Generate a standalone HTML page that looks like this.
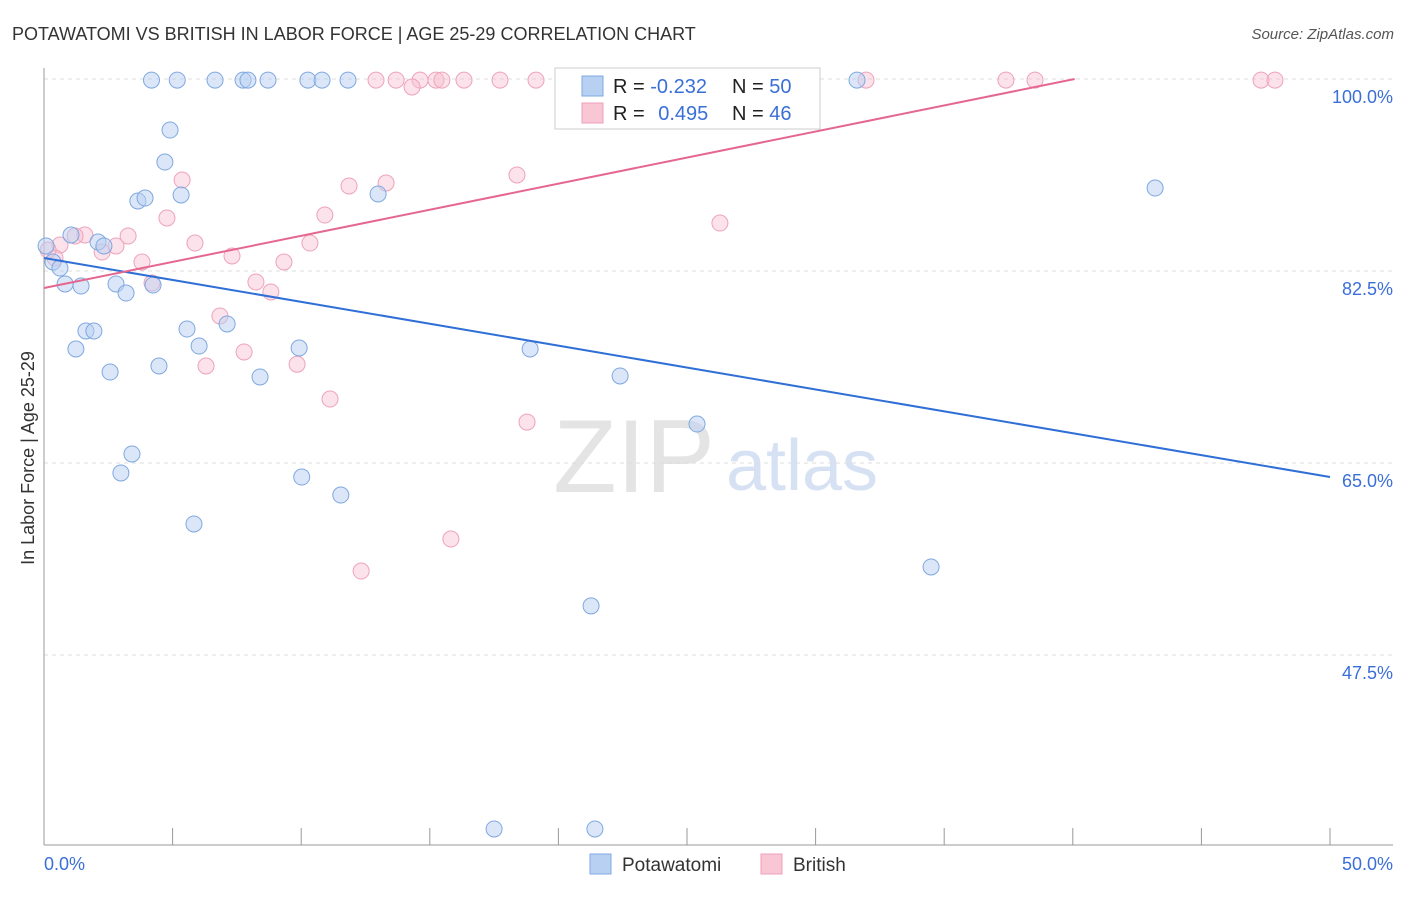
<!DOCTYPE html>
<html><head><meta charset="utf-8"><style>
body{margin:0;background:#fff;font-family:"Liberation Sans",sans-serif}
svg text{font-family:"Liberation Sans",sans-serif}
</style></head><body>
<svg width="1406" height="892" xmlns="http://www.w3.org/2000/svg" id="chart">
<text x="12" y="40" font-size="18" fill="#333">POTAWATOMI VS BRITISH IN LABOR FORCE | AGE 25-29 CORRELATION CHART</text>
<text x="1394" y="39" font-size="15" fill="#555" text-anchor="end" font-style="italic">Source: ZipAtlas.com</text>
<text x="34" y="458" font-size="18" fill="#333" text-anchor="middle" transform="rotate(-90 34 458)">In Labor Force | Age 25-29</text>
<g><text x="634" y="492" font-size="104" fill="#e4e4e4" font-family="Liberation Serif" text-anchor="middle">ZIP</text><text x="802" y="490" font-size="72" fill="#d6e2f3" text-anchor="middle">atlas</text></g>
<g id="grid"></g><g id="axes"></g><g id="marks"></g>
<g>
<rect x="555" y="68" width="265" height="61" fill="#fff" stroke="#ccc"/>
<rect x="582" y="76" width="21" height="20" fill="#b8d0f2" stroke="#7fa8e0"/>
<rect x="582" y="103" width="21" height="20" fill="#f9c6d5" stroke="#eda0b8"/>
<text x="613" y="93" font-size="20" fill="#222">R = <tspan fill="#3a6fd8">-0.232</tspan></text>
<text x="732" y="93" font-size="20" fill="#222">N = <tspan fill="#3a6fd8">50</tspan></text>
<text x="613" y="120" font-size="20" fill="#222">R = <tspan fill="#3a6fd8" dx="8">0.495</tspan></text>
<text x="732" y="120" font-size="20" fill="#222">N = <tspan fill="#3a6fd8">46</tspan></text>
</g>
<g>
<rect x="590" y="854" width="21" height="20" fill="#b8d0f2" stroke="#7fa8e0"/>
<text x="622" y="871" font-size="19" fill="#333">Potawatomi</text>
<rect x="761" y="854" width="21" height="20" fill="#f9c6d5" stroke="#eda0b8"/>
<text x="793" y="871" font-size="19" fill="#333">British</text>
</g>
</svg>
<script>
const yTicks=[100,82.5,65,47.5];
const yTickLabels=["100.0%","82.5%","65.0%","47.5%"];
const xTicks=[0,5,10,15,20,25,30,35,40,45,50];
const blueX=[4.18,5.18,6.65,7.74,7.93,8.71,10.26,10.81,11.82,31.61,4.9,4.7,3.65,3.93,5.33,12.99,43.2,0.08,2.1,2.33,1.05,0.35,0.62,0.82,1.44,2.8,3.19,4.24,1.63,1.94,5.56,7.12,1.24,6.03,9.92,18.9,2.57,4.47,8.4,22.4,25.39,3.42,2.99,10.02,11.54,5.83,34.49,21.27,17.5,21.42];
const blueY=[99.9,99.9,99.9,99.9,99.9,99.9,99.9,99.9,99.9,99.9,95.35,92.43,88.88,89.15,89.43,89.52,90.06,84.78,85.14,84.78,85.78,83.32,82.77,81.32,81.13,81.32,80.49,81.22,77.03,77.03,77.21,77.67,75.39,75.66,75.48,75.39,73.29,73.84,72.84,72.93,68.55,65.82,64.09,63.72,62.08,59.44,55.52,51.97,31.64,31.64];
const pinkX=[12.91,13.69,14.62,15.24,15.47,16.33,17.73,19.13,14.31,28.07,31.96,37.4,38.53,47.32,47.86,5.37,11.86,13.3,18.39,4.78,10.92,26.28,0.62,1.59,1.21,3.27,2.8,2.26,5.87,10.34,7.31,3.81,9.33,8.24,8.82,4.2,6.84,7.78,6.3,9.84,11.12,18.78,15.82,12.33,0.43,0.16];
const pinkY=[99.9,99.9,99.9,99.9,99.9,99.9,99.9,99.9,99.27,99.9,99.9,99.9,99.9,99.9,99.9,90.79,90.25,90.52,91.25,87.33,87.6,86.87,84.87,85.78,85.69,85.69,84.78,84.23,85.05,85.05,83.87,83.32,83.32,81.5,80.59,81.4,78.4,75.12,73.84,74.0,70.83,68.73,58.07,55.15,83.68,84.41];
const blueTrend=[83.68,63.72];
const pinkTrend=[80.95,104.72];
const NS="http://www.w3.org/2000/svg";
const X=v=>44+v*25.72, Y=v=>79+(100-v)*10.971;
function mk(t,a,p){const e=document.createElementNS(NS,t);for(const k in a)e.setAttribute(k,a[k]);p.appendChild(e);return e;}
const grid=document.getElementById('grid'),axes=document.getElementById('axes'),marks=document.getElementById('marks');
yTicks.forEach((v,i)=>{
 const l=mk('line',{x1:44,x2:1393,y1:Y(v),y2:Y(v),stroke:'#ddd','stroke-dasharray':'4,4'},grid);
 
 
 const t=mk('text',{x:1393,y:Y(v)+24,'font-size':18,fill:'#3a6fd8','text-anchor':'end'},axes);
 t.textContent=yTickLabels[i];
 
 
});
const ax=mk('line',{x1:44,x2:1393,y1:845,y2:845,stroke:'#999'},axes);


const ay=mk('line',{x1:44,x2:44,y1:68,y2:845,stroke:'#999'},axes);


xTicks.forEach(v=>{
 const l=mk('line',{x1:X(v),x2:X(v),y1:828,y2:845,stroke:'#999'},axes);
 
 
});
const t0=mk('text',{x:44,y:870,'font-size':18,fill:'#3a6fd8'},axes);t0.textContent='0.0%';


const t1=mk('text',{x:1393,y:870,'font-size':18,fill:'#3a6fd8','text-anchor':'end'},axes);t1.textContent='50.0%';


pinkX.forEach((x,i)=>{
 const c=mk('circle',{cx:X(x),cy:Y(pinkY[i]),r:8,fill:'rgba(249,190,208,0.45)',stroke:'#eea3bb','stroke-width':1},marks);
 
 
});
blueX.forEach((x,i)=>{
 const c=mk('circle',{cx:X(x),cy:Y(blueY[i]),r:8,fill:'rgba(184,208,242,0.5)',stroke:'#7fa8e0','stroke-width':1},marks);
 
 
});
const bl=mk('line',{x1:X(0),y1:Y(blueTrend[0]),x2:X(50),y2:Y(blueTrend[1]),stroke:'#2f6fd6','stroke-width':2},marks);


const slope=(pinkTrend[1]-pinkTrend[0])/50;
const xEnd=Math.min(50,(100-pinkTrend[0])/slope);
const pl=mk('line',{x1:X(0),y1:Y(pinkTrend[0]),x2:X(xEnd),y2:Y(pinkTrend[0]+slope*xEnd),stroke:'#e5678f','stroke-width':2},marks);


</script>
</body></html>
